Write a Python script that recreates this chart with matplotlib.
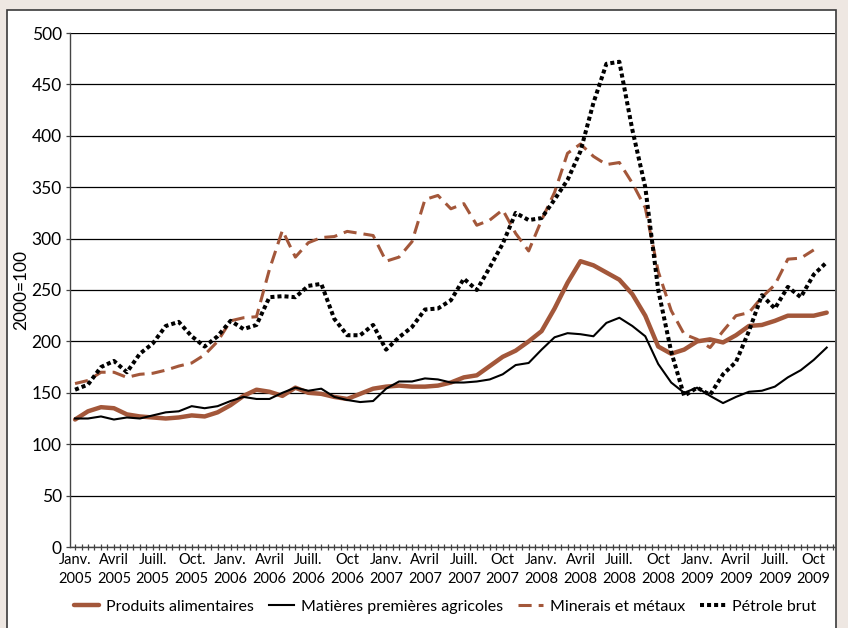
import numpy as np
import matplotlib
matplotlib.use("Agg")
import matplotlib.pyplot as plt
from matplotlib.patches import Rectangle
from matplotlib.ticker import MultipleLocator

plt.rcParams['font.family'] = ['Lato', 'DejaVu Sans']

tick_labels = ["Janv.\n2005", "Avril\n2005", "Juill.\n2005", "Oct.\n2005",
               "Janv.\n2006", "Avril\n2006", "Juill.\n2006", "Oct\n2006",
               "Janv.\n2007", "Avril\n2007", "Juill.\n2007", "Oct\n2007",
               "Janv.\n2008", "Avril\n2008", "Juill.\n2008", "Oct\n2008",
               "Janv.\n2009", "Avril\n2009", "Juill.\n2009", "Oct\n2009"]

# monthly values, Jan 2005 -> Nov 2009 (index 2000 = 100)
produits = [124, 132, 136, 135, 129, 127, 126, 125, 126, 128, 127, 131,
            138, 147, 153, 151, 147, 155, 150, 149, 146, 144, 149, 154,
            156, 157, 156, 156, 157, 160, 165, 167, 176, 185, 191, 200,
            210, 232, 257, 278, 274, 267, 260, 246, 225, 195, 188,
            192, 200, 202, 199, 206, 215, 216, 220, 225, 225, 225, 228]

matieres = [125, 125, 127, 124, 126, 125, 128, 131, 132, 137, 135, 137,
            142, 146, 144, 144, 150, 155, 152, 154, 146, 143, 141, 142,
            154, 161, 161, 164, 163, 160, 160, 161, 163, 168, 177, 179,
            192, 204, 208, 207, 205, 218, 223, 215, 205, 178, 160,
            150, 155, 147, 140, 146, 151, 152, 156, 165, 172, 182, 194]

minerais = [159, 162, 170, 170, 165, 168, 169, 172, 176, 179, 187, 200,
            220, 223, 224, 270, 308, 282, 296, 301, 302, 307, 305, 303,
            278, 282, 297, 338, 342, 329, 334, 313, 318, 328, 305, 288,
            318, 345, 383, 392, 380, 372, 374, 354, 330, 268, 230,
            207, 202, 194, 210, 225, 228, 243, 255, 280, 281, 289]

petrole = [153, 158, 175, 181, 170, 188, 198, 215, 219, 205, 195, 205,
           220, 212, 216, 243, 244, 243, 254, 256, 222, 206, 206, 216,
           192, 204, 214, 231, 232, 240, 261, 250, 272, 295, 325, 318,
           320, 338, 357, 385, 432, 470, 472, 406, 350, 250, 190,
           147, 155, 148, 168, 180, 210, 245, 232, 253, 243, 265, 277]

brown = "#A3573A"

fig = plt.figure(figsize=(8.48, 6.28), dpi=100)
fig.patch.set_facecolor("#EEE7E2")
frame = Rectangle((7/848, -0.1), (836-7)/848, 1 - 10.5/628 + 0.1,
                  transform=fig.transFigure, facecolor="white",
                  edgecolor="#3a3a3a", linewidth=1.2, zorder=-5)
fig.patches.append(frame)

ax = fig.add_axes([70/848, 1 - 547/628, (835-70)/848, (547-33)/628])
ax.set_facecolor("none")
ax.set_zorder(2)

x_p = np.arange(len(produits))
x_m = np.arange(len(matieres))
x_n = np.arange(len(minerais))
x_o = np.arange(len(petrole))

ax.plot(x_p, produits, color=brown, lw=3.2, solid_joinstyle="round",
        solid_capstyle="round", label="Produits alimentaires", zorder=3)
ax.plot(x_m, matieres, color="black", lw=1.5, solid_joinstyle="round",
        label="Matières premières agricoles", zorder=3)
ax.plot(x_n, minerais, color=brown, lw=2.2, dashes=(4.3, 2.3),
        dash_capstyle="butt", label="Minerais et métaux", zorder=3)
ax.plot(x_o, petrole, color="black", lw=2.9, dashes=(1, 0.75),
        dash_capstyle="butt", label="Pétrole brut", zorder=4)

ax.set_ylim(0, 500)
ax.set_xlim(-0.39, 58.64)
ax.yaxis.set_major_locator(MultipleLocator(50))
ax.grid(axis="y", color="black", lw=0.9)
ax.set_axisbelow(True)

ax.set_xticks(np.arange(0, 60, 3))
ax.set_xticklabels(tick_labels, fontsize=10.5, linespacing=1.4)
ax.xaxis.set_minor_locator(MultipleLocator(0.5))
ax.tick_params(axis="x", which="both", direction="inout", length=5,
               width=0.9, color="#444444", pad=2)
ax.tick_params(axis="y", direction="out", length=3, width=0.9,
               color="#444444", labelsize=12.5, pad=3)

for s in ["top", "right"]:
    ax.spines[s].set_visible(False)
for s in ["left", "bottom"]:
    ax.spines[s].set_color("#444444")
    ax.spines[s].set_linewidth(1.0)

ax.set_ylabel("2000=100", fontsize=12.5)
ax.yaxis.set_label_coords((29 - 70) / 765, 0.5)

leg = fig.legend(loc="center", bbox_to_anchor=(445/848, 1 - 607/628), ncol=4,
                 frameon=False, fontsize=11.5, handlelength=1.6,
                 columnspacing=0.95, handletextpad=0.4)

fig.savefig("out.png", dpi=100, facecolor=fig.get_facecolor())
